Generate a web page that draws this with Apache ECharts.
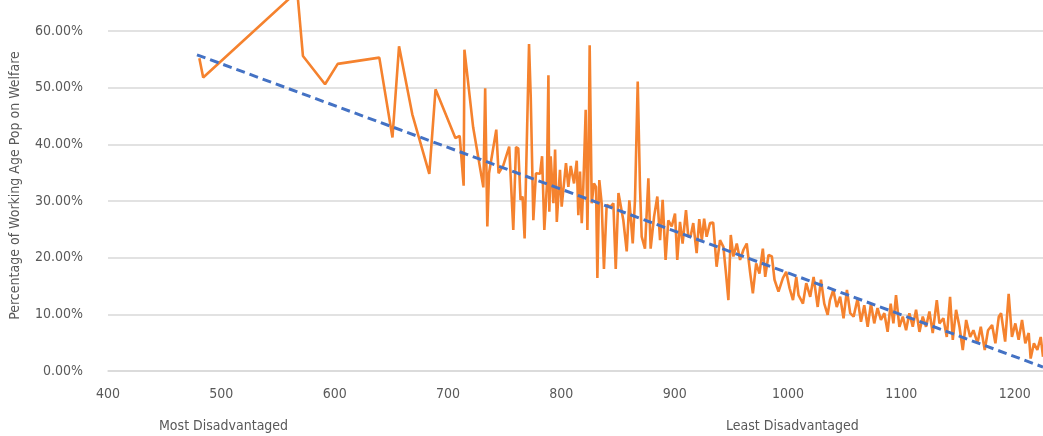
<!DOCTYPE html>
<html>
<head>
<meta charset="utf-8">
<script src="https://cdn.jsdelivr.net/npm/echarts@6/dist/echarts.min.js"></script>
<style>
  html, body { margin: 0; padding: 0; background: #fff; }
  #chart { width: 1043px; height: 436px; }
</style>
</head>
<body>
<div id="chart"></div>
<script>
  // disadvantage score (x) vs % of working age pop on welfare (y)
  var scoreX = [
    480.6, 484, 567, 572, 591.5, 602.7, 639.4, 651, 656.8, 668.5, 683.5, 689, 706.5, 710.3, 713.8, 714.5,
    722.2, 731.2, 732.8, 734.7, 736.2, 742.6, 744.6, 748.8, 754, 757.6, 760, 762, 764, 765.8, 767.6,
    771.5, 773, 775.3, 777.6, 781.2, 783, 785, 787.2, 788.6, 789.4, 790.6, 793, 794.5, 796, 798.8,
    800.3, 804.1, 806.2, 808.3, 811.2, 813.6, 815, 816.5, 818, 819.4, 821.5, 823, 824.2, 825, 826.8,
    828.8, 830.6, 831.8, 833.5, 835.6, 837.6, 840, 843.5, 845.9, 848, 850.4, 851.8, 854.7, 857.7, 860,
    863, 865, 867.4, 869.4, 870.9, 873.8, 876.8, 878.8, 881.8, 884.7, 887.1, 889.4, 892, 894.4, 897.4,
    900.3, 902.3, 904.7, 907, 910, 912, 914, 916.4, 919.4, 921.7, 924, 926, 928.2, 931.2, 934, 937,
    940, 943, 945.3, 947.4, 949.5, 951.8, 954.8, 957.7, 960.7, 963.6, 966.5, 969, 971.9, 974.8, 977.8,
    979.9, 982.8, 985.8, 988.1, 991.6, 995.5, 998.4, 1001.4, 1004.4, 1007.3, 1009.3, 1013.2, 1016.1,
    1019.6, 1022.6, 1026.2, 1029.1, 1032, 1035, 1037, 1040, 1043, 1046, 1049, 1052, 1054.9, 1057.9,
    1061.4, 1064.4, 1067.3, 1070.3, 1073.2, 1076.1, 1079, 1082, 1085, 1087.9, 1090.6, 1093, 1095.3,
    1098.3, 1101.3, 1104.2, 1107.1, 1110.1, 1113, 1116, 1118.9, 1121.8, 1124.8, 1127.7, 1131.3, 1133.6,
    1137.1, 1140.1, 1143, 1145.4, 1148.3, 1151.3, 1154.2, 1157.2, 1160.7, 1163.6, 1167.2, 1170.1,
    1173.6, 1176.5, 1180.1, 1183, 1186, 1188, 1191.6, 1194.7, 1197.6, 1200.6, 1203.5, 1206.5, 1209.4,
    1212.4, 1214.1, 1217, 1220, 1223, 1225
  ]
  var welfarePct = [
    55.2, 51.8, 67.0, 55.6, 50.6, 54.2, 55.3, 41.2, 57.3, 45.3, 34.8, 49.7, 41.1, 41.5, 32.7, 56.7,
    43.0, 32.4, 49.9, 25.5, 34.9, 42.6, 34.9, 36.3, 39.6, 24.9, 39.5, 39.3, 30.2, 30.8, 23.4,
    57.7, 48.4, 26.6, 34.9, 34.8, 37.9, 24.9, 32.5, 52.2, 28.1, 37.9, 29.6, 39.1, 26.3, 35.5,
    29.0, 36.7, 32.5, 36.2, 33.1, 37.1, 27.5, 35.2, 26.1, 32.5, 46.1, 24.9, 39.7, 57.5, 29.6,
    33.1, 32.5, 16.4, 33.7, 29.6, 18.0, 29.3, 29.0, 29.6, 18.0, 31.4, 31.6, 26.6, 21.1, 30.1,
    22.5, 30.2, 51.1, 32.5, 23.7, 21.6, 34.0, 21.6, 27.2, 30.8, 23.1, 30.2, 19.6, 26.6, 25.5,
    27.8, 19.6, 26.3, 22.5, 28.4, 23.7, 23.7, 26.1, 20.8, 26.8, 23.1, 26.9, 23.7, 26.1, 26.2, 18.4,
    23.1, 21.9, 17.2, 12.5, 24.0, 20.2, 22.5, 19.6, 21.4, 22.5, 17.5, 13.7, 19.0, 17.2, 21.6,
    16.6, 20.5, 20.2, 16.1, 14.0, 16.4, 17.5, 14.6, 12.5, 16.6, 13.4, 11.9, 15.5,
    13.1, 16.6, 11.3, 16.1, 11.9, 9.9, 12.5, 14.3, 11.3, 13.1, 9.3, 14.3, 10.2, 9.6,
    12.8, 8.7, 11.6, 7.8, 11.9, 8.4, 11.1, 9.0, 10.2, 6.9, 11.9, 8.4, 13.4,
    7.8, 9.6, 7.2, 10.2, 7.8, 10.8, 6.9, 9.6, 7.8, 10.5, 6.7, 12.5, 8.4,
    9.3, 6.0, 13.1, 5.5, 10.8, 7.8, 3.7, 9.0, 6.0, 7.2, 4.9, 7.8,
    3.7, 7.2, 8.1, 4.9, 9.6, 10.2, 5.2, 13.6, 6.0, 8.4, 5.5, 9.0, 4.9,
    6.7, 2.2, 4.9, 3.7, 6.0, 2.5
  ]
  // linear trend line end points
  var trendX = [478.5, 1225]
  var trendPct = [55.8, 0.7]

  var welfareData = []
  for (var i = 0; i < scoreX.length; i++) {
    welfareData.push([scoreX[i], welfarePct[i]])
  }
  var trendData = []
  for (var j = 0; j < trendX.length; j++) {
    trendData.push([trendX[j], trendPct[j]])
  }

  var labelFont = '"DejaVu Sans Condensed", "Liberation Sans", sans-serif'
  var chart = echarts.init(document.getElementById('chart'))

  const option = {
    animation: false,
    grid: {
      left: 108,
      right: 0,
      top: 0,
      bottom: 65,
      containLabel: false,
      outerBoundsMode: 'none'
    },
    xAxis: {
      type: 'value',
      min: 400,
      max: 1225,
      interval: 100,
      axisLine: { show: true, lineStyle: { color: '#d9d9d9', width: 1.5 } },
      axisTick: { show: false },
      splitLine: { show: false },
      axisLabel: {
        color: '#595959',
        fontFamily: labelFont,
        fontSize: 14,
        margin: 16,
        showMaxLabel: false,
        formatter: function (v) {
          return String(v)
        }
      }
    },
    yAxis: {
      type: 'value',
      min: 0,
      max: 65.47,
      interval: 10,
      name: 'Percentage of Working Age Pop on Welfare',
      nameLocation: 'middle',
      nameGap: 86,
      nameTextStyle: {
        color: '#595959',
        fontFamily: labelFont,
        fontSize: 14
      },
      axisLine: { show: false },
      axisTick: { show: false },
      splitLine: { show: true, showMaxLine: false, lineStyle: { color: '#d9d9d9', width: 1.5 } },
      axisLabel: {
        color: '#595959',
        fontFamily: labelFont,
        fontSize: 14,
        margin: 25,
        showMaxLabel: false,
        formatter: function (v) {
          return v.toFixed(2) + '%'
        }
      }
    },
    graphic: [
      {
        type: 'text',
        left: 159,
        top: 419,
        style: { text: 'Most Disadvantaged', fill: '#595959', font: '14px ' + labelFont }
      },
      {
        type: 'text',
        left: 726,
        top: 419,
        style: { text: 'Least Disadvantaged', fill: '#595959', font: '14px ' + labelFont }
      }
    ],
    series: [
      {
        name: 'welfare',
        type: 'line',
        data: welfareData,
        symbol: 'none',
        clip: true,
        lineStyle: { color: '#F5822E', width: 2.6 }
      },
      {
        name: 'trend',
        type: 'line',
        data: trendData,
        symbol: 'none',
        lineStyle: { color: '#4472C4', width: 3, type: [9, 5] }
      }
    ]
  }

  chart.setOption(option)
</script>
</body>
</html>
